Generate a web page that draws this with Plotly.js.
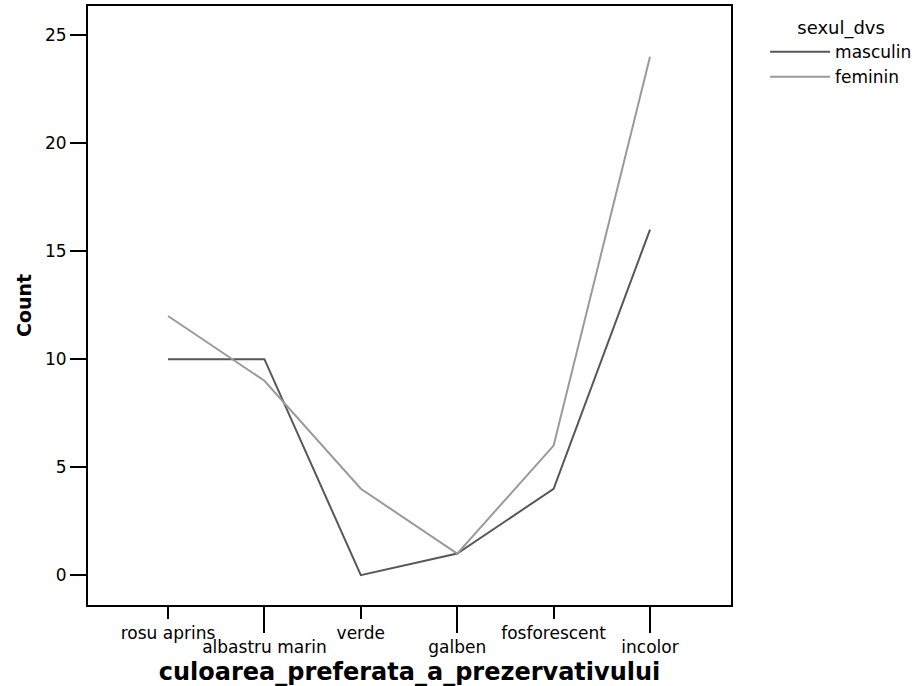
<!DOCTYPE html>
<html>
<head>
<meta charset="utf-8">
<script src="https://cdn.plot.ly/plotly-3.0.1.min.js"></script>
<style>html,body{margin:0;padding:0;background:#fff;}#chart{width:924px;height:686px;}</style>
</head>
<body>
<div id="chart"></div>
<script>
const categories = ["rosu aprins", "albastru marin", "verde", "galben", "fosforescent", "incolor"];
const masculin = [10, 10, 0, 1, 4, 16];
const feminin = [12, 9, 4, 1, 6, 24];
const yTicks = [0, 5, 10, 15, 20, 25];

const idx = categories.map((c, i) => i);
const upperIdx = idx.filter(i => i % 2 === 0);
const lowerIdx = idx.filter(i => i % 2 === 1);

const F = "DejaVu Sans, Liberation Sans, Arial, sans-serif";
const xr = [-0.83, 5.84];

const traces = [
  {x: idx, y: masculin, name: "masculin", type: "scatter", mode: "lines",
   line: {color: "#575757", width: 2}, xaxis: "x", yaxis: "y"},
  {x: idx, y: feminin, name: "feminin", type: "scatter", mode: "lines",
   line: {color: "#9a9a9a", width: 2}, xaxis: "x2", yaxis: "y"}
];

const layout = {
  width: 924, height: 686,
  margin: {l: 88, r: 193, t: 6, b: 81, pad: 0},
  paper_bgcolor: "#fff", plot_bgcolor: "#fff",
  font: {family: F, size: 17, color: "#000"},
  showlegend: true,
  legend: {
    x: 1.053, y: 0.992, xanchor: "left", yanchor: "top",
    itemwidth: 60,
    title: {text: "sexul_dvs", side: "top center", font: {family: F, size: 18, color: "#000"}},
    font: {family: F, size: 17, color: "#000"},
    bgcolor: "rgba(0,0,0,0)", tracegroupgap: 0
  },
  xaxis: {
    range: xr, showgrid: false, zeroline: false,
    showline: true, mirror: true, linecolor: "#000", linewidth: 2,
    tickmode: "array", tickvals: upperIdx, ticktext: upperIdx.map(i => categories[i]),
    ticks: "outside", ticklen: 12, tickwidth: 2, tickcolor: "#000",
    tickfont: {family: F, size: 17, color: "#000"}
  },
  xaxis2: {
    range: xr, overlaying: "x", side: "bottom", anchor: "y",
    showgrid: false, zeroline: false, showline: false,
    tickmode: "array", tickvals: lowerIdx, ticktext: lowerIdx.map(i => categories[i]),
    ticks: "outside", ticklen: 27, tickwidth: 2, tickcolor: "#000",
    tickfont: {family: F, size: 17, color: "#000"},
    title: {text: "culoarea_preferata_a_prezervativului", standoff: 9,
            font: {family: F, size: 24, color: "#000", weight: "bold"}}
  },
  yaxis: {
    range: [-1.38, 26.35], showgrid: false, zeroline: false,
    showline: true, mirror: true, linecolor: "#000", linewidth: 2,
    tickmode: "array", tickvals: yTicks,
    ticks: "outside", ticklen: 16, tickwidth: 2, tickcolor: "#000",
    tickfont: {family: F, size: 17, color: "#000"},
    title: {text: "Count", standoff: 8, font: {family: F, size: 19, color: "#000", weight: "bold"}}
  }
};

Plotly.newPlot("chart", traces, layout, {displayModeBar: false, staticPlot: true});
</script>
</body>
</html>
